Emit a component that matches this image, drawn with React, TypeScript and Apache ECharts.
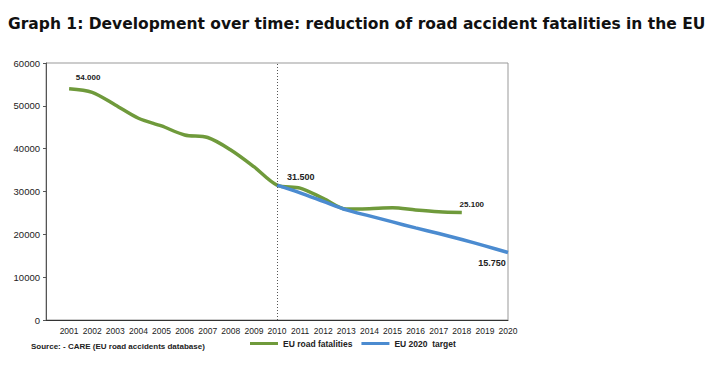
import React, { useEffect, useRef } from "react";
import * as echarts from "echarts";

const years = [2001, 2002, 2003, 2004, 2005, 2006, 2007, 2008, 2009, 2010, 2011, 2012, 2013, 2014, 2015, 2016, 2017, 2018];
const fatalities = [54000, 53150, 50200, 47100, 45300, 43200, 42600, 39700, 35800, 31500, 30800, 28400, 25900, 26000, 26200, 25700, 25300, 25100];
const targetYears = [2010, 2011, 2012, 2013, 2014, 2015, 2016, 2017, 2018, 2019, 2020];
const target = [31500, 29700, 27700, 25700, 24300, 22900, 21500, 20200, 18800, 17300, 15750];
const yTicks = [0, 10000, 20000, 30000, 40000, 50000, 60000];

const fmt = (v: number) => {
  const s = String(Math.round(v));
  return s.replace(/\B(?=(\d{3})+(?!\d))/g, ".");
};

const GREEN = "#6f9a3b";
const BLUE = "#4b8bd0";
const FONT = "Liberation Sans, Arial, sans-serif";

export default function App() {
  const ref = useRef<HTMLDivElement>(null);
  useEffect(() => {
    document.body.style.margin = "0";
    const chart = echarts.init(ref.current!, null, { renderer: "svg" });
    const labelStyle = { show: true, fontFamily: FONT, fontWeight: "bold", color: "#222", formatter: (p: any) => fmt(p.value[1]) };
    const greenData = years.map((y, i) => {
      const item: any = { value: [y, fatalities[i]] };
      if (i === 0) item.label = { ...labelStyle, fontSize: 8, position: "top", offset: [19, -2] };
      if (i === 9) item.label = { ...labelStyle, fontSize: 9, position: "right", offset: [5, -8] };
      if (i === years.length - 1) item.label = { ...labelStyle, fontSize: 8, position: "top", offset: [10, 1] };
      return item;
    });
    const blueData = targetYears.map((y, i) => {
      const item: any = { value: [y, target[i]] };
      if (i === targetYears.length - 1) item.label = { ...labelStyle, fontSize: 9, position: "bottom", offset: [-16, 1] };
      return item;
    });
    chart.setOption({
      animation: false,
      backgroundColor: "#ffffff",
      grid: { left: 46, right: 220, top: 63, bottom: 46, show: true, borderColor: "#999", borderWidth: 1, containLabel: false },
      xAxis: {
        type: "value",
        min: 2000,
        max: 2020,
        interval: 1,
        splitLine: { show: false },
        axisLine: { lineStyle: { color: "#333", width: 1 } },
        axisTick: { show: false },
        axisLabel: {
          fontFamily: FONT,
          fontSize: 8.5,
          color: "#222",
          margin: 6,
          formatter: (v: number) => (v === 2000 ? "" : String(v)),
        },
      },
      yAxis: {
        type: "value",
        min: 0,
        max: 60000,
        interval: 10000,
        splitLine: { show: false },
        axisLine: { show: true, lineStyle: { color: "#555", width: 1 } },
        axisTick: { show: true, length: 3, lineStyle: { color: "#555" } },
        axisLabel: {
          fontFamily: FONT,
          fontSize: 9.5,
          color: "#222",
          margin: 6,
          formatter: (v: number) => (yTicks.includes(v) ? String(v) : ""),
        },
      },
      legend: {
        left: 250,
        top: 339,
        padding: 0,
        icon: "rect",
        itemWidth: 28,
        itemHeight: 3,
        itemGap: 9,
        textStyle: { fontFamily: FONT, fontSize: 8.5, fontWeight: "bold", color: "#222" },
        data: ["EU road fatalities", "EU 2020  target"],
      },
      graphic: [
        {
          type: "text",
          left: 8,
          top: 16,
          style: {
            text: "Graph 1: Development over time: reduction of road accident fatalities in the EU",
            fontFamily: "DejaVu Sans, sans-serif",
            fontWeight: "bold",
            fontSize: 15.5,
            fill: "#111",
          },
        },
        {
          type: "text",
          left: 31,
          top: 342,
          style: {
            text: "Source: - CARE (EU road accidents database)",
            fontFamily: FONT,
            fontWeight: "bold",
            fontSize: 8,
            fill: "#222",
          },
        },
      ],
      series: [
        {
          name: "EU 2020  target",
          type: "line",
          smooth: 0.3,
          data: blueData,
          showSymbol: true,
          symbolSize: 0,
          itemStyle: { color: BLUE },
          lineStyle: { color: BLUE, width: 3.5 },
          label: { show: false },
          z: 3,
        },
        {
          name: "EU road fatalities",
          type: "line",
          smooth: 0.3,
          data: greenData,
          showSymbol: true,
          symbolSize: 0,
          itemStyle: { color: GREEN },
          lineStyle: { color: GREEN, width: 3.5 },
          label: { show: false },
          z: 2,
          markLine: {
            silent: true,
            symbol: "none",
            label: { show: false },
            lineStyle: { color: "#555", type: [1, 2], width: 1 },
            data: [{ xAxis: 2010 }],
          },
        },
      ],
    });
    return () => chart.dispose();
  }, []);
  return <div ref={ref} style={{ width: 728, height: 366, position: "absolute", left: 0, top: 0 }} />;
}
